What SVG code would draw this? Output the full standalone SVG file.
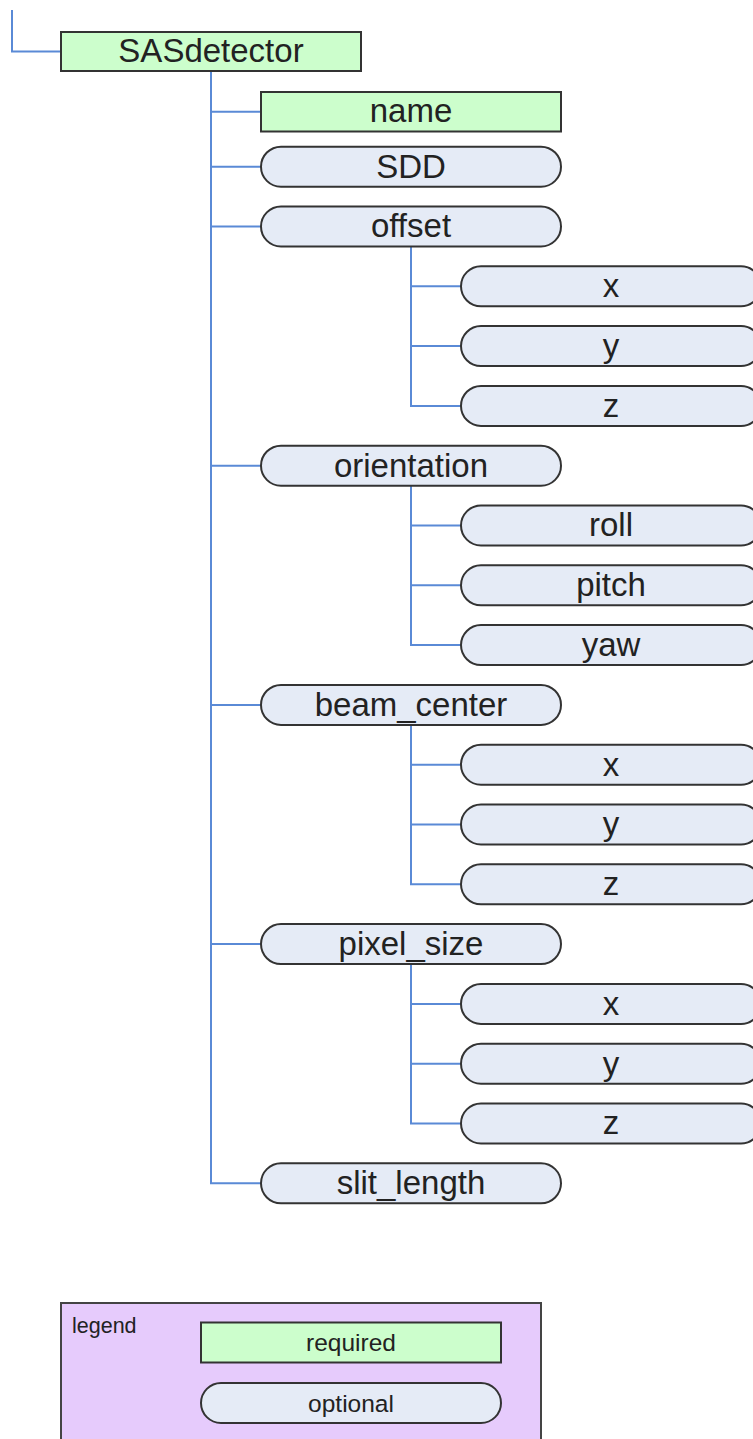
<svg xmlns="http://www.w3.org/2000/svg" width="753" height="1439" viewBox="0 0 753 1439">
<style>
.req{fill:#ccfecc;stroke:#333;stroke-width:2}
.opt{fill:#e5ebf6;stroke:#333;stroke-width:2}
.lbl{font-family:"Liberation Sans",Arial,sans-serif;font-size:33px;fill:#222;text-anchor:middle}
.lg{font-family:"Liberation Sans",Arial,sans-serif;font-size:24.5px;fill:#222;text-anchor:middle}
.con{fill:none;stroke:#5a8ad6;stroke-width:2}
</style>
<rect width="753" height="1439" fill="#fff"/>
<g id="connectors" class="con">
<polyline points="12,10 12,51.5 61,51.5"/>
<polyline points="211,71 211,1183.3 261,1183.3"/>
<line x1="211" y1="111.7" x2="261" y2="111.7"/>
<line x1="211" y1="166.7" x2="261" y2="166.7"/>
<line x1="211" y1="226.5" x2="261" y2="226.5"/>
<line x1="211" y1="465.7" x2="261" y2="465.7"/>
<line x1="211" y1="704.9" x2="261" y2="704.9"/>
<line x1="211" y1="944.1" x2="261" y2="944.1"/>
<polyline points="411,246.5 411,405.9 461,405.9"/>
<line x1="411" y1="286.3" x2="461" y2="286.3"/>
<line x1="411" y1="346.1" x2="461" y2="346.1"/>
<polyline points="411,485.7 411,645.1 461,645.1"/>
<line x1="411" y1="525.5" x2="461" y2="525.5"/>
<line x1="411" y1="585.3" x2="461" y2="585.3"/>
<polyline points="411,724.9 411,884.3 461,884.3"/>
<line x1="411" y1="764.7" x2="461" y2="764.7"/>
<line x1="411" y1="824.5" x2="461" y2="824.5"/>
<polyline points="411,964.1 411,1123.5 461,1123.5"/>
<line x1="411" y1="1003.9" x2="461" y2="1003.9"/>
<line x1="411" y1="1063.7" x2="461" y2="1063.7"/>
</g>
<g id="SASdetector"><rect class="req" x="61" y="32" width="300" height="39"/><text class="lbl" x="211" y="62">SASdetector</text></g>
<g id="name"><rect class="req" x="261" y="92" width="300" height="39.5"/><text class="lbl" x="411" y="122">name</text></g>
<g id="SDD"><rect class="opt" x="261" y="146.7" width="300" height="40" rx="20"/><text class="lbl" x="411" y="177.5">SDD</text></g>
<g id="offset"><rect class="opt" x="261" y="206.5" width="300" height="40" rx="20"/><text class="lbl" x="411" y="237.3">offset</text></g>
<g id="offset_x"><rect class="opt" x="461" y="266.3" width="300" height="40" rx="20"/><text class="lbl" x="611" y="297.1">x</text></g>
<g id="offset_y"><rect class="opt" x="461" y="326.1" width="300" height="40" rx="20"/><text class="lbl" x="611" y="356.9">y</text></g>
<g id="offset_z"><rect class="opt" x="461" y="385.9" width="300" height="40" rx="20"/><text class="lbl" x="611" y="416.7">z</text></g>
<g id="orientation"><rect class="opt" x="261" y="445.7" width="300" height="40" rx="20"/><text class="lbl" x="411" y="476.5">orientation</text></g>
<g id="roll"><rect class="opt" x="461" y="505.5" width="300" height="40" rx="20"/><text class="lbl" x="611" y="536.3">roll</text></g>
<g id="pitch"><rect class="opt" x="461" y="565.3" width="300" height="40" rx="20"/><text class="lbl" x="611" y="596.1">pitch</text></g>
<g id="yaw"><rect class="opt" x="461" y="625.1" width="300" height="40" rx="20"/><text class="lbl" x="611" y="655.9">yaw</text></g>
<g id="beam_center"><rect class="opt" x="261" y="684.9" width="300" height="40" rx="20"/><text class="lbl" x="411" y="715.7">beam_center</text></g>
<g id="beam_center_x"><rect class="opt" x="461" y="744.7" width="300" height="40" rx="20"/><text class="lbl" x="611" y="775.5">x</text></g>
<g id="beam_center_y"><rect class="opt" x="461" y="804.5" width="300" height="40" rx="20"/><text class="lbl" x="611" y="835.3">y</text></g>
<g id="beam_center_z"><rect class="opt" x="461" y="864.3" width="300" height="40" rx="20"/><text class="lbl" x="611" y="895.1">z</text></g>
<g id="pixel_size"><rect class="opt" x="261" y="924.1" width="300" height="40" rx="20"/><text class="lbl" x="411" y="954.9">pixel_size</text></g>
<g id="pixel_size_x"><rect class="opt" x="461" y="983.9" width="300" height="40" rx="20"/><text class="lbl" x="611" y="1014.7">x</text></g>
<g id="pixel_size_y"><rect class="opt" x="461" y="1043.7" width="300" height="40" rx="20"/><text class="lbl" x="611" y="1074.5">y</text></g>
<g id="pixel_size_z"><rect class="opt" x="461" y="1103.5" width="300" height="40" rx="20"/><text class="lbl" x="611" y="1134.3">z</text></g>
<g id="slit_length"><rect class="opt" x="261" y="1163.3" width="300" height="40" rx="20"/><text class="lbl" x="411" y="1194.1">slit_length</text></g>
<g id="legend">
<rect x="61" y="1303" width="480" height="150" fill="#e6cbfc" stroke="#444" stroke-width="2"/>
<text x="72" y="1333" font-family="'Liberation Sans',Arial,sans-serif" font-size="21.5" fill="#222">legend</text>
<rect class="req" x="201" y="1322.5" width="300" height="40"/>
<text class="lg" x="351" y="1351">required</text>
<rect class="opt" x="201" y="1383" width="300" height="40" rx="20"/>
<text class="lg" x="351" y="1411.5">optional</text>
</g>
</svg>
